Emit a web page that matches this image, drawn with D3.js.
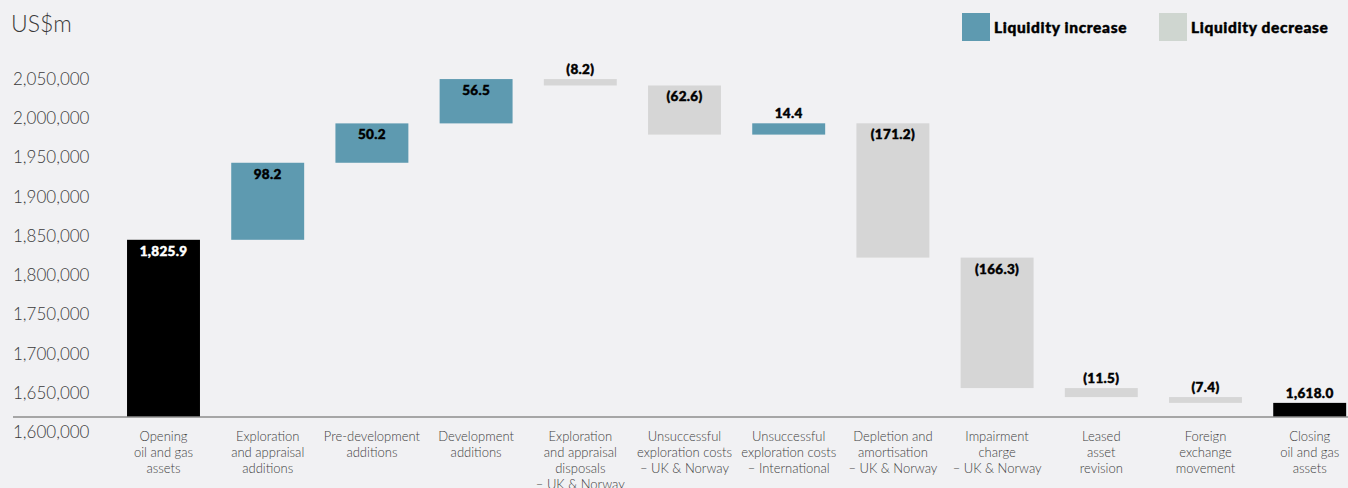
<!DOCTYPE html>
<html>
<head>
<meta charset="utf-8">
<script src="https://cdn.jsdelivr.net/npm/d3@7/dist/d3.min.js"></script>
<style>
  html, body { margin: 0; padding: 0; background: #f1f1f3; }
  svg { display: block; }
  .light { font-family: Lato, "Open Sans", sans-serif; font-weight: 300; }
  .heavy { font-family: Lato, "Open Sans", sans-serif; font-weight: 900; }
</style>
</head>
<body>
<svg id="chart" width="1348" height="488"></svg>
<script>
// Oil and gas assets bridge, US$m
const categories = [
  ["Opening", "oil and gas", "assets"],
  ["Exploration", "and appraisal", "additions"],
  ["Pre-development", "additions"],
  ["Development", "additions"],
  ["Exploration", "and appraisal", "disposals", "– UK & Norway"],
  ["Unsuccessful", "exploration costs", "– UK & Norway"],
  ["Unsuccessful", "exploration costs", "– International"],
  ["Depletion and", "amortisation", "– UK & Norway"],
  ["Impairment", "charge", "– UK & Norway"],
  ["Leased", "asset", "revision"],
  ["Foreign", "exchange", "movement"],
  ["Closing", "oil and gas", "assets"]
];
const openingValue = 1825.9;
const closingValue = 1618.0;
const movements = [98.2, 50.2, 56.5, -8.2, -62.6, 14.4, -171.2, -166.3, -11.5, -7.4];
const tickValues = [1600000, 1650000, 1700000, 1750000, 1800000, 1850000, 1900000, 1950000, 2000000, 2050000];
const legendItems = ["Liquidity increase", "Liquidity decrease"];

const colors = { total: "#000000", up: "#5e9ab0", down: "#d6d6d6", downKey: "#cfd6d0" };

// Build the running totals for the waterfall
const rows = [];
rows.push({ i: 0, start: 0, end: openingValue, type: "total", value: openingValue });
let running = openingValue;
movements.forEach((m, k) => {
  rows.push({ i: k + 1, start: running, end: running + m, type: m >= 0 ? "up" : "down", value: m });
  running += m;
});
rows.push({ i: categories.length - 1, start: 0, end: closingValue, type: "total", value: closingValue });

const svg = d3.select("#chart");
const baseY = 417;

const x = d3.scaleBand()
  .domain(d3.range(categories.length))
  .range([111.4, 1361.8])
  .paddingInner(0.3)
  .paddingOuter(0.15);

const y = d3.scaleLinear()
  .domain([1600000, 2050000])
  .range([baseY, 64]);

// y(v) for values in US$m, clamped at the axis floor
const ym = v => Math.min(baseY, y(Math.max(v * 1000, 1600000)));

// Unit caption
svg.append("text").attr("class", "light")
  .attr("x", 11).attr("y", 32)
  .attr("font-size", 23).attr("fill", "#3a3a3a")
  .text("US$m");

// Left axis: labels only, left-aligned and hung below each tick value
const yAxis = svg.append("g")
  .attr("transform", "translate(13,0)")
  .call(d3.axisLeft(y).tickValues(tickValues).tickSize(0).tickFormat(d3.format(",")));
yAxis.select(".domain").remove();
yAxis.selectAll("text")
  .attr("class", "light")
  .attr("x", 0)
  .attr("dy", "0")
  .attr("y", 14)
  .attr("dominant-baseline", "central")
  .attr("text-anchor", "start")
  .attr("font-size", 17)
  .attr("fill", "#3a3a3a");

// Bars
svg.append("g").selectAll("rect")
  .data(rows)
  .join("rect")
  .attr("x", d => x(d.i))
  .attr("width", x.bandwidth())
  .attr("y", d => Math.min(ym(d.start), ym(d.end)))
  .attr("height", d => Math.abs(ym(d.start) - ym(d.end)))
  .attr("fill", d => colors[d.type]);

// Baseline
svg.append("line")
  .attr("x1", 13).attr("x2", 1348)
  .attr("y1", baseY).attr("y2", baseY)
  .attr("stroke", "#8c8c8c").attr("stroke-width", 1.5);

// Value labels: inside the top of tall bars, above short ones
const fmtTotal = d3.format(",.1f");
const fmtMove = d3.format(".1f");
const barH = d => Math.abs(ym(d.start) - ym(d.end));
svg.append("g").selectAll("text")
  .data(rows)
  .join("text")
  .attr("class", "heavy")
  .attr("font-size", 13.5)
  .attr("letter-spacing", 0.3)
  .attr("text-anchor", "middle")
  .attr("dominant-baseline", "central")
  .attr("x", d => x(d.i) + x.bandwidth() / 2)
  .attr("y", d => {
    const top = Math.min(ym(d.start), ym(d.end));
    return barH(d) > 22 ? top + 11 : top - 10;
  })
  .attr("fill", d => (d.type === "total" && barH(d) > 22) ? "#ffffff" : "#000000")
  .attr("stroke", d => (d.type === "total" && barH(d) > 22) ? "#ffffff" : "#000000")
  .attr("stroke-width", 0.45)
  .text(d => d.type === "total" ? fmtTotal(d.value) : (d.value < 0 ? "(" + fmtMove(-d.value) + ")" : fmtMove(d.value)));

// Category labels along the bottom
const xAxis = svg.append("g")
  .attr("transform", `translate(0,${baseY})`)
  .call(d3.axisBottom(x).tickSize(0).tickFormat(""));
xAxis.select(".domain").remove();
xAxis.selectAll(".tick text")
  .attr("class", "light")
  .attr("font-size", 13)
  .attr("fill", "#3f3f3f")
  .attr("y", 0)
  .attr("dy", 0)
  .each(function(i) {
    const t = d3.select(this);
    categories[i].forEach((line, k) => {
      t.append("tspan").attr("x", 0).attr("y", 24 + k * 16).text(line);
    });
  });

// Legend
const legendColors = [colors.up, colors.downKey];
const legendX = [962, 1159];
const legend = svg.append("g");
legendItems.forEach((label, k) => {
  legend.append("rect")
    .attr("x", legendX[k]).attr("y", 13)
    .attr("width", 28).attr("height", 28)
    .attr("fill", legendColors[k]);
  legend.append("text").attr("class", "heavy")
    .attr("x", legendX[k] + 32).attr("y", 27)
    .attr("dominant-baseline", "central")
    .attr("font-size", 15.5)
    .attr("letter-spacing", 0.65)
    .attr("fill", "#000").attr("stroke", "#000").attr("stroke-width", 0.45)
    .text(label);
});
</script>
</body>
</html>
